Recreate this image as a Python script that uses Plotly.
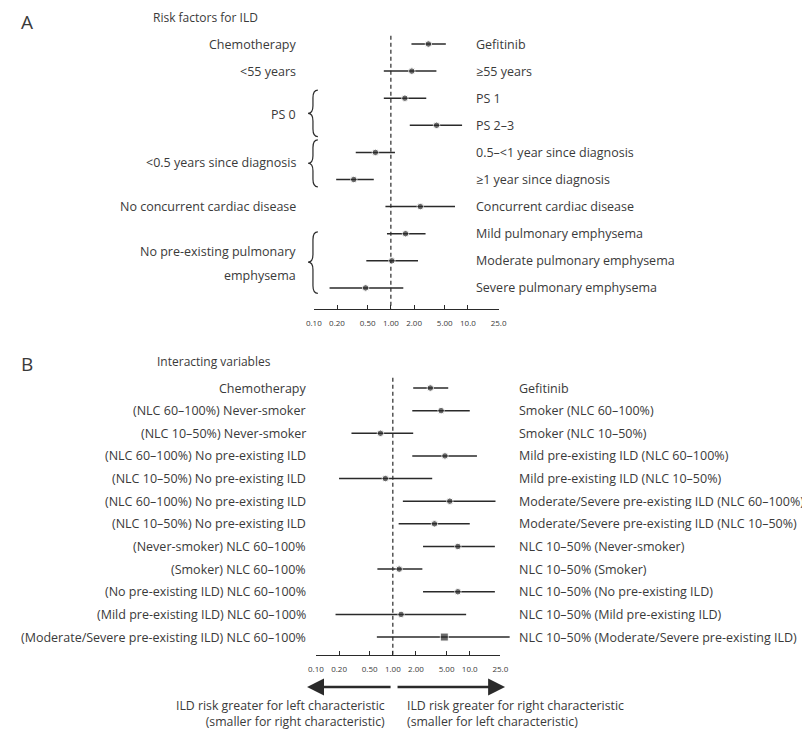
import plotly.graph_objects as go
import math

# Browser window is 810x731; the page body has an 8px default margin,
# so the figure is made 8px smaller and all screen positions are shifted.
WIN_W, WIN_H = 810, 731
OFF = 8
W, H = WIN_W - OFF, WIN_H - OFF

# ---------------- Panel A: risk factors ----------------
a_left = ["Chemotherapy", "<55 years", "", "", "", "", "No concurrent cardiac disease", "", "", ""]
a_right = ["Gefitinib", "≥55 years", "PS 1", "PS 2–3", "0.5–<1 year since diagnosis",
           "≥1 year since diagnosis", "Concurrent cardiac disease", "Mild pulmonary emphysema",
           "Moderate pulmonary emphysema", "Severe pulmonary emphysema"]
a_or = [3.07, 1.87, 1.52, 3.92, 0.63, 0.33, 2.41, 1.55, 1.03, 0.47]
a_lo = [1.85, 0.81, 0.81, 1.76, 0.35, 0.195, 0.85, 0.89, 0.48, 0.16]
a_hi = [5.17, 3.90, 2.88, 8.40, 1.13, 0.60, 6.80, 2.82, 2.25, 1.45]
# grouped left labels: (text lines, label rows, brace top, brace bottom, brace tip)
a_groups = [
    (["PS 0"], [2.6], 1.70, 3.42, 2.56),
    (["<0.5 years since diagnosis"], [4.36], 3.54, 5.27, 4.40),
    (["No pre-existing pulmonary", "emphysema"], [7.66, 8.56], 6.93, 9.20, 8.05),
]

# ---------------- Panel B: interacting variables ----------------
b_left = ["Chemotherapy", "(NLC 60–100%) Never-smoker", "(NLC 10–50%) Never-smoker",
          "(NLC 60–100%) No pre-existing ILD", "(NLC 10–50%) No pre-existing ILD",
          "(NLC 60–100%) No pre-existing ILD", "(NLC 10–50%) No pre-existing ILD",
          "(Never-smoker) NLC 60–100%", "(Smoker) NLC 60–100%",
          "(No pre-existing ILD) NLC 60–100%", "(Mild pre-existing ILD) NLC 60–100%",
          "(Moderate/Severe pre-existing ILD) NLC 60–100%"]
b_right = ["Gefitinib", "Smoker (NLC 60–100%)", "Smoker (NLC 10–50%)",
           "Mild pre-existing ILD (NLC 60–100%)", "Mild pre-existing ILD (NLC 10–50%)",
           "Moderate/Severe pre-existing ILD (NLC 60–100%)",
           "Moderate/Severe pre-existing ILD (NLC 10–50%)",
           "NLC 10–50% (Never-smoker)", "NLC 10–50% (Smoker)",
           "NLC 10–50% (No pre-existing ILD)", "NLC 10–50% (Mild pre-existing ILD)",
           "NLC 10–50% (Moderate/Severe pre-existing ILD)"]
b_or = [3.07, 4.24, 0.69, 4.76, 0.80, 5.50, 3.48, 7.00, 1.21, 7.00, 1.28, 4.67]
b_lo = [1.84, 1.79, 0.29, 1.79, 0.20, 1.35, 1.19, 2.47, 0.63, 2.47, 0.18, 0.62]
b_hi = [5.25, 10.0, 1.84, 12.4, 3.25, 21.6, 10.0, 21.2, 2.42, 21.2, 8.97, 33.0]
b_symbol = ["circle"] * 11 + ["square"]

tick_vals = [0.1, 0.2, 0.5, 1, 2, 5, 10, 25]
tick_text = ["0.10", "0.20", "0.50", "1.00", "2.00", "5.00", "10.0", "25.0"]

# ---------------- layout geometry (screen pixels) ----------------
FONT = "Open Sans"
TXT = "#3a3a3a"
INK = "#2a2a2a"
LAB = 12.5

# screen pixel position of OR=1 and pixels per decade, per panel
XA1, DECA = 390.5, 78.6
XB1, DECB = 392.5, 78.5
# y: screen pixel of first row, row pitch, domain top/bottom pixels
A_Y0, A_DY, A_TOP, A_BOT = 44.0, 27.1, 30.0, 309.0
B_Y0, B_DY, B_TOP, B_BOT = 388.0, 22.64, 372.0, 655.0


def px(p):
    return (p - OFF) / W


def py(p):
    return 1 - (p - OFF) / H


fig = go.Figure()


def add_panel(odds, lo, hi, xdata, ydata, symbols, dash_top):
    n = len(odds)
    rows = list(range(n))
    fig.add_trace(go.Scatter(
        x=[1, 1], y=[dash_top, n + 5], mode="lines",
        line=dict(color=INK, width=1.2, dash="4px,3px"),
        xaxis=xdata, yaxis=ydata, showlegend=False, hoverinfo="skip"))
    fig.add_trace(go.Scatter(
        x=odds, y=rows, mode="markers",
        marker=dict(color=INK, size=[6.5 if s == "circle" else 8 for s in symbols], symbol=symbols),
        error_x=dict(type="data", symmetric=False,
                     array=[h - o for h, o in zip(hi, odds)],
                     arrayminus=[o - l for o, l in zip(odds, lo)],
                     color=INK, thickness=1.5, width=0),
        xaxis=xdata, yaxis=ydata, showlegend=False, hoverinfo="skip"))


add_panel(a_or, a_lo, a_hi, "x3", "y", ["circle"] * len(a_or), -0.3)
add_panel(b_or, b_lo, b_hi, "x4", "y2", b_symbol, -0.45)
# placeholders so the visible axes have subplots
fig.add_trace(go.Scatter(x=[1], y=[None], xaxis="x", yaxis="y", showlegend=False, hoverinfo="skip"))
fig.add_trace(go.Scatter(x=[1], y=[None], xaxis="x2", yaxis="y2", showlegend=False, hoverinfo="skip"))


def vis_axis(x1, dec):
    return dict(type="log", domain=[px(x1 - dec), px(x1 + dec * math.log10(25))],
                range=[-1, math.log10(25)], showline=True, linecolor=INK, linewidth=1.3,
                ticks="inside", ticklen=4, tickcolor=INK, tickwidth=1.2,
                tickvals=tick_vals, ticktext=tick_text, ticklabelstandoff=6,
                tickfont=dict(family=FONT, size=8, color=TXT),
                showgrid=False, zeroline=False, fixedrange=True)


def data_axis(x1, dec):
    return dict(type="log", domain=[0, 1],
                range=[(OFF - x1) / dec, (OFF + W - x1) / dec],
                visible=False, showgrid=False, zeroline=False, fixedrange=True)


def y_axis(y0, dy, top, bot):
    return dict(domain=[py(bot), py(top)], range=[(bot - y0) / dy, (top - y0) / dy],
                visible=False, showgrid=False, zeroline=False, fixedrange=True)


annotations = []
shapes = []


def label(x, y, text, anchor, yref="paper", size=LAB, align=None):
    annotations.append(dict(x=x, y=y, xref="paper", yref=yref, text=text, showarrow=False,
                            xanchor=anchor, yanchor="middle", align=align or anchor,
                            font=dict(family=FONT, size=size, color=TXT)))


# panel A labels
for i, t in enumerate(a_left):
    if t:
        label(px(296), i, t, "right", "y")
for i, t in enumerate(a_right):
    label(px(475), i, t, "left", "y")
for lines, ys, top, bot, tip in a_groups:
    for t, yv in zip(lines, ys):
        label(px(296), yv, t, "right", "y")
    xr, xm, xt = px(316), px(311), px(306)
    r = 0.28
    path = (f"M{xr},{top} Q{xm},{top} {xm},{top + r} L{xm},{tip - r} "
            f"Q{xm},{tip} {xt},{tip} Q{xm},{tip} {xm},{tip + r} "
            f"L{xm},{bot - r} Q{xm},{bot} {xr},{bot}")
    shapes.append(dict(type="path", path=path, xref="paper", yref="y",
                       line=dict(color=INK, width=1.2)))

# panel B labels
for i, t in enumerate(b_left):
    label(px(306), i, t, "right", "y2")
for i, t in enumerate(b_right):
    label(px(519), i, t, "left", "y2")

# headings and panel letters
label(px(11), py(22), "A", "left", size=19)
label(px(146), py(18), "Risk factors for ILD", "left", size=12)
label(px(11), py(364), "B", "left", size=19)
label(px(150), py(361), "Interacting variables", "left", size=12)

# direction arrows and captions
for head, tail in [(305, 390), (507, 398)]:
    annotations.append(dict(x=px(head), y=py(687), ax=tail - head, ay=0,
                            xref="paper", yref="paper", axref="pixel", ayref="pixel",
                            text="", showarrow=True, arrowhead=2, arrowsize=1.3,
                            arrowwidth=2.6, arrowcolor=INK))
label(px(387), py(713), "ILD risk greater for left characteristic<br>(smaller for right characteristic)",
      "right", size=12.3)
label(px(405), py(713), "ILD risk greater for right characteristic<br>(smaller for left characteristic)",
      "left", size=12.3)

fig.update_layout(
    width=W, height=H, margin=dict(l=0, r=0, t=0, b=0, pad=0),
    paper_bgcolor="white", plot_bgcolor="rgba(0,0,0,0)",
    xaxis=dict(vis_axis(XA1, DECA), anchor="y"),
    xaxis3=dict(data_axis(XA1, DECA), anchor="y"),
    yaxis=dict(y_axis(A_Y0, A_DY, A_TOP, A_BOT), anchor="x3"),
    xaxis2=dict(vis_axis(XB1, DECB), anchor="y2"),
    xaxis4=dict(data_axis(XB1, DECB), anchor="y2"),
    yaxis2=dict(y_axis(B_Y0, B_DY, B_TOP, B_BOT), anchor="x4"),
    annotations=annotations, shapes=shapes, showlegend=False,
)

fig.write_html("out.html")
